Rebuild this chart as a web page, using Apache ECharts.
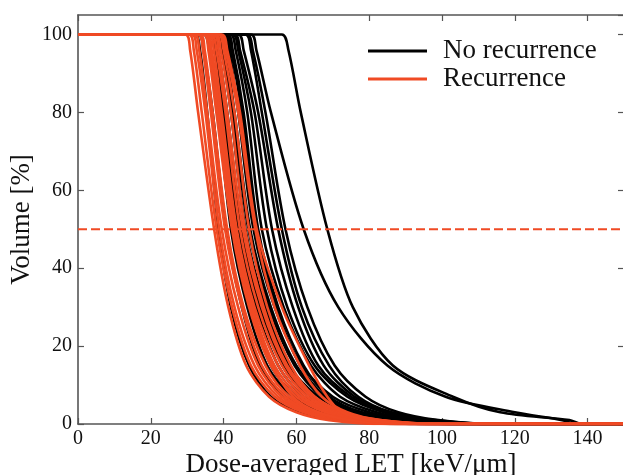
<!DOCTYPE html>
<html>
<head>
<meta charset="utf-8">
<script src="https://cdn.jsdelivr.net/npm/echarts@6/dist/echarts.min.js"></script>
<style>
  html, body { margin: 0; padding: 0; background: #fff; }
  #chart { width: 623px; height: 475px; }
</style>
</head>
<body>
<div id="chart"></div>
<script>
// volume levels [%] shared by every curve; each curve row lists the LET [keV/um] where it reaches that level
var volumeLevels = [100, 96, 80, 50, 30, 15, 7, 3, 1, 0];

var noRecurrence = [
    [32, 33.5, 35.5, 38.6, 42, 47, 53, 61, 72, 90],
    [33, 34.5, 37, 40.7, 45, 50, 57, 66, 78, 95],
    [34.5, 36, 38.5, 42, 46.5, 52, 59, 68, 80, 98],
    [35, 36.5, 39, 43, 47.5, 53, 60, 69, 81, 98],
    [36, 37.5, 40, 44, 49, 55, 62, 71, 83, 100],
    [37, 38.5, 41, 45, 50, 56.5, 64, 73, 85, 102],
    [38, 39.5, 42, 46, 51.5, 58, 66, 75, 87, 104],
    [38.5, 40, 42.5, 46.8, 52.5, 59.5, 67, 76, 88, 105],
    [39, 40.5, 43, 47.3, 53, 60, 68, 77.5, 89, 106],
    [40, 41.5, 44, 48.2, 54, 61.5, 70, 80, 91, 108],
    [40.5, 42, 45, 49, 54.5, 61, 68, 77, 88, 104],
    [41, 42.5, 45.5, 49.5, 55, 62, 69, 78, 90, 106],
    [41.8, 43.3, 46.5, 50.5, 56.5, 64, 72, 82, 93, 110],
    [42.5, 44, 47.5, 51.9, 57.5, 65, 74, 84, 95, 112],
    [43, 44.5, 48.5, 53.3, 59, 66, 75, 85, 97, 115],
    [44, 45.5, 49.5, 55, 60.5, 67.5, 76, 86, 98, 115],
    [46, 47.5, 50.5, 56, 61.5, 69, 77, 86, 97, 112],
    [46.4, 48, 51.5, 57, 63, 70.5, 79, 88, 99, 115],
    [47.5, 49, 53, 62, 71.5, 85, 101, 120, 133, 137],
    [56, 57.8, 61.2, 68.5, 75.5, 86.5, 103, 116, 135, 138.5]
];

var recurrence = [
    [29.5, 30.8, 33, 37.4, 41.3, 46.2, 52.5, 60, 69, 85],
    [30.5, 31.8, 34, 38.1, 42.3, 47.5, 54, 62, 72, 88],
    [31.3, 32.6, 35, 38.8, 43, 48.5, 55, 63, 73, 90],
    [32, 33.3, 35.5, 39.5, 44, 49.5, 56, 64, 74, 92],
    [33, 34.3, 36.5, 40.4, 45, 50.5, 57, 65, 75, 92],
    [33.5, 34.8, 37, 41, 45.5, 51.5, 58, 66, 76, 94],
    [34.5, 35.8, 38, 42.3, 47, 53, 60, 68, 78, 95],
    [35, 36.3, 38.5, 42.8, 47.5, 53.5, 59, 66, 75, 90],
    [35.4, 36.7, 39, 43.2, 48, 54, 61, 69, 79, 96],
    [36, 37.3, 39.5, 43.6, 48.5, 55, 62, 70, 80, 98],
    [36.5, 38, 40.5, 44.5, 49.5, 56, 63, 71, 81, 98],
    [37.2, 38.6, 41, 45.3, 50.5, 57, 64, 72, 82, 100],
    [37.8, 39.2, 42, 45.9, 51, 57.5, 65, 73, 83, 100],
    [38.5, 40, 43, 47, 52, 58.5, 65, 73, 82, 98],
    [39, 40.5, 44, 48.7, 54, 61, 67, 74, 83, 100],
    [39.5, 41, 44.5, 49.1, 56, 63.5, 68.5, 72.5, 80, 95]
];

var xRange = [0, 150];
var threshold = 50;

var fontFam = '"Liberation Serif", "DejaVu Serif", serif';
var axisGray = '#555';
var red = '#f04a24';

function curveData(row) {
    var pts = [[xRange[0], 100]];
    for (var i = 0; i < volumeLevels.length; i++) {
        pts.push([row[i], volumeLevels[i]]);
    }
    pts.push([xRange[1], 0]);
    return pts;
}

function makeSeries(rows, name, color) {
    var out = [];
    for (var i = 0; i < rows.length; i++) {
        out.push({
            name: name,
            type: 'line',
            data: curveData(rows[i]),
            showSymbol: false,
            symbol: 'none',
            smooth: 0.3,
            lineStyle: { color: color, width: 2.6 },
            itemStyle: { color: color },
            silent: true,
            z: 2
        });
    }
    return out;
}

var series = [].concat(makeSeries(noRecurrence, 'No recurrence', '#000'),
                       makeSeries(recurrence, 'Recurrence', red));

series.push({
    name: 'threshold',
    type: 'line',
    data: [[xRange[0], threshold], [xRange[1], threshold]],
    symbol: 'none',
    lineStyle: { color: red, width: 2, type: [9, 4] },
    silent: true,
    z: 3
});

function axisBase() {
    return {
        axisLine: { show: true, onZero: false, lineStyle: { color: axisGray, width: 1.6 } },
        axisTick: { show: true, inside: true, length: 6, lineStyle: { color: axisGray, width: 1.2 } },
        splitLine: { show: false }
    };
}

var xBottom = Object.assign(axisBase(), {
    type: 'value', position: 'bottom', min: xRange[0], max: xRange[1], interval: 20,
    name: 'Dose-averaged LET [keV/\u03bcm]', nameLocation: 'middle', nameGap: 27, nameMoveOverlap: false,
    nameTextStyle: { fontFamily: fontFam, fontSize: 27, color: '#111' },
    axisLabel: { fontFamily: fontFam, fontSize: 20, color: '#111', margin: 5, showMaxLabel: false }
});
var xTop = Object.assign(axisBase(), {
    type: 'value', position: 'top', min: xRange[0], max: xRange[1], interval: 20,
    axisLabel: { show: false }
});
var yLeft = Object.assign(axisBase(), {
    type: 'value', position: 'left', min: 0, max: 105, interval: 20,
    name: 'Volume [%]', nameLocation: 'middle', nameGap: 43, nameRotate: 90, nameMoveOverlap: false,
    nameTextStyle: { fontFamily: fontFam, fontSize: 27, color: '#111' },
    axisLabel: { fontFamily: fontFam, fontSize: 20, color: '#111', margin: 6, showMaxLabel: false }
});
var yRight = Object.assign(axisBase(), {
    type: 'value', position: 'right', min: 0, max: 105, interval: 20,
    axisLabel: { show: false }
});

var myChart = echarts.init(document.getElementById('chart'), null, { renderer: 'canvas' });
var option = {
    animation: false,
    backgroundColor: '#fff',
    grid: { left: 78, right: -1, top: 15, bottom: 51, outerBoundsMode: 'none', containLabel: false },
    legend: {
        data: ['No recurrence', 'Recurrence'],
        orient: 'vertical',
        left: 363,
        top: 32,
        itemWidth: 59,
        itemHeight: 14,
        itemGap: 0,
        icon: 'path://M0,6 L59,6 L59,9 L0,9 Z',
        textStyle: { fontFamily: fontFam, fontSize: 27, color: '#111', lineHeight: 28, padding: [0, 0, 0, 11] },
        selectedMode: false
    },
    xAxis: [xBottom, xTop],
    yAxis: [yLeft, yRight],
    series: series
};
myChart.setOption(option);
</script>
</body>
</html>
